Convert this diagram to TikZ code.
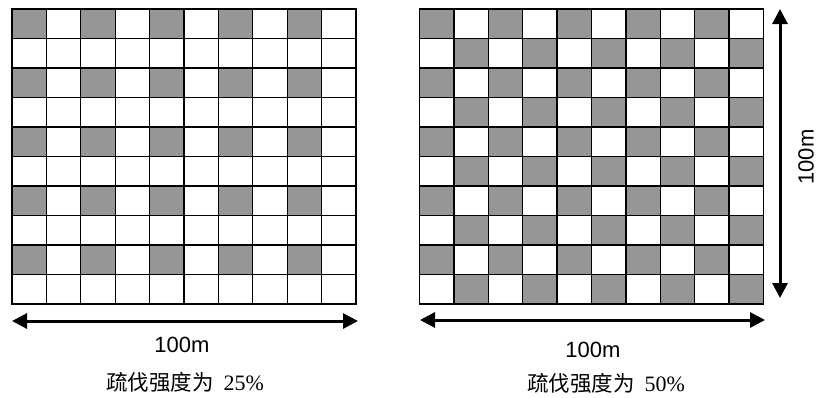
\documentclass[tikz,border=0pt]{standalone}
\usepackage{fontspec}
\setmainfont{Liberation Serif}
\newfontfamily\cjk{Noto Sans CJK SC}
\newfontfamily\arialf{Liberation Sans}
\usetikzlibrary{arrows.meta}
\definecolor{shade}{RGB}{150,150,150}
\tikzset{
  cellshade/.style={fill=shade},
  gridline/.style={line width=1.3pt, black},
  border/.style={line width=1.8pt, black},
  dimarrow/.style={line width=3pt, {Triangle[length=15pt,width=15pt]}-{Triangle[length=15pt,width=15pt]}},
  dimlabel/.style={font=\arialf\fontsize{22}{24}\selectfont, inner sep=0pt},
  caption/.style={font=\fontsize{22}{24}\selectfont, inner sep=0pt}
}
\newcommand{\cjktext}[1]{{\cjk\fontsize{21.5}{23}\selectfont #1}}
\begin{document}
\begin{tikzpicture}[x=1pt,y=-1pt]
\useasboundingbox (0,0) rectangle (818,397);
% left grid (25%)
\def\lx{12}\def\ly{9}\def\cw{34.4}\def\ch{29.5}
\foreach \r in {0,2,4,6,8}{
  \foreach \c in {0,2,4,6,8}{
    \fill[cellshade] (\lx+\c*\cw,\ly+\r*\ch) rectangle ++(\cw,\ch);
  }
}
\foreach \i in {1,...,9}{
  \draw[gridline] (\lx+\i*\cw,\ly) -- (\lx+\i*\cw,\ly+10*\ch);
  \draw[gridline] (\lx,\ly+\i*\ch) -- (\lx+10*\cw,\ly+\i*\ch);
}
\draw[border] (\lx,\ly) rectangle (\lx+10*\cw,\ly+10*\ch);
% right grid (50%)
\def\rx{419.5}
\foreach \r in {0,...,9}{
  \foreach \c in {0,...,9}{
    \pgfmathparse{int(mod(\r+\c,2))}
    \ifnum\pgfmathresult=0
      \fill[cellshade] (\rx+\c*\cw,\ly+\r*\ch) rectangle ++(\cw,\ch);
    \fi
  }
}
\foreach \i in {1,...,9}{
  \draw[gridline] (\rx+\i*\cw,\ly) -- (\rx+\i*\cw,\ly+10*\ch);
  \draw[gridline] (\rx,\ly+\i*\ch) -- (\rx+10*\cw,\ly+\i*\ch);
}
\draw[border] (\rx,\ly) rectangle (\rx+10*\cw,\ly+10*\ch);
% dimension arrows
\coordinate (la) at (12,321);
\coordinate (lb) at (358,321);
\coordinate (ra) at (420,320);
\coordinate (rb) at (765,320);
\coordinate (va) at (780,9);
\coordinate (vb) at (780,298);
\draw[dimarrow] (la) -- (lb);
\draw[dimarrow] (ra) -- (rb);
\draw[dimarrow] (va) -- (vb);
% labels
\node[dimlabel] (l100) at (182,345) {100m};
\node[dimlabel] (r100) at (593,350) {100m};
\node[dimlabel, rotate=90] (v100) at (806,157) {100m};
\node[caption] (lcap) at (185,382) {\cjktext{疏伐强度为}\hspace{10pt}25\%};
\node[caption] (rcap) at (606,383) {\cjktext{疏伐强度为}\hspace{10pt}50\%};
\end{tikzpicture}
\end{document}
